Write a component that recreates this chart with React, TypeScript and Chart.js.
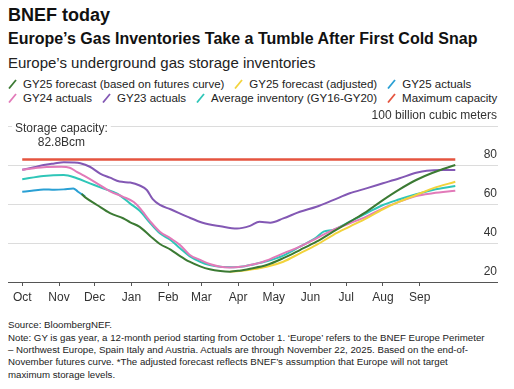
import React, { useEffect, useRef } from 'react';
import { Chart, registerables } from 'chart.js';

Chart.register(...registerables);

const FONT = '"Liberation Sans", Arial, Helvetica, sans-serif';

// x axis: days since October 1 of the gas year
const monthDays = [0, 31, 61, 92, 123, 151, 182, 212, 243, 273, 304, 335];
const monthLabels = ['Oct', 'Nov', 'Dec', 'Jan', 'Feb', 'Mar', 'Apr', 'May', 'Jun', 'Jul', 'Aug', 'Sep'];
const yTicks = [20, 40, 60, 80, 100];
const yUnit = 'billion cubic meters';

// GY25 forecast (based on futures curve)
const gy25ForecastDays = [50, 54, 63, 74, 85, 91, 99, 108, 116, 125, 133, 141, 150, 158, 167, 175, 183, 192, 206, 220, 234, 248, 262, 276, 290, 304, 318, 332, 346, 365];
const gy25ForecastValues = [65.1, 63, 59.5, 55.3, 52.7, 50.6, 48.3, 43.5, 39.5, 36.6, 33.3, 30.4, 28, 26.5, 25.6, 25.3, 25.8, 26.8, 28.7, 32.2, 36.4, 40.7, 45.8, 50.9, 56, 62, 67.5, 72.3, 76, 80];

// GY25 forecast (adjusted)
const gy25AdjustedDays = [175, 183, 192, 206, 220, 234, 248, 262, 276, 290, 304, 318, 332, 346, 365];
const gy25AdjustedValues = [25.3, 25.6, 26.3, 27.8, 30.4, 34.7, 39, 44.1, 48.4, 52.6, 57.3, 61.2, 64.6, 68, 71.4];

// GY25 actuals
const gy25ActualDays = [0, 8, 18, 27, 35, 43, 47, 50, 53];
const gy25ActualValues = [66.3, 66.8, 67.5, 67.3, 67.5, 68, 66.3, 65.1, 64];

// GY24 actuals
const gy24Days = [0, 10, 18, 33, 40, 46, 52, 63, 74, 85, 94, 99, 108, 116, 125, 133, 141, 150, 158, 167, 175, 184, 192, 200, 206, 220, 234, 248, 262, 276, 290, 304, 318, 332, 346, 365];
const gy24Values = [77.6, 78.3, 78.9, 79.1, 78.6, 76.5, 74.5, 70.6, 66.5, 63.7, 61, 58, 51, 45.8, 42.4, 39, 34, 31.3, 29.2, 27.8, 27.5, 27.8, 28.7, 29.8, 31, 34.7, 38.1, 42.4, 46.7, 50.1, 53.5, 57.8, 61.2, 64.1, 65.5, 66.8];

// GY23 actuals
const gy23Days = [0, 10, 18, 27, 35, 43, 49, 57, 66, 74, 82, 91, 99, 105, 110, 116, 125, 139, 152, 167, 181, 192, 200, 209, 220, 234, 248, 262, 276, 290, 304, 318, 332, 341, 355, 365];
const gy23Values = [77.6, 78.8, 80, 80.8, 81.4, 81.3, 80.9, 79.1, 75.5, 73.5, 71.5, 71, 69.5, 67.2, 62.5, 59.5, 57.3, 53.5, 50.4, 48.6, 47.4, 48.8, 50.9, 50.4, 52.6, 56, 58.6, 62, 65.5, 68, 70.6, 73.2, 76, 77.1, 77.4, 77.4];

// Average inventory (GY16-GY20)
const avgDays = [0, 18, 35, 46, 57, 68, 80, 91, 99, 108, 116, 125, 133, 141, 150, 158, 167, 178, 186, 192, 206, 220, 234, 248, 254, 262, 276, 290, 304, 318, 332, 346, 365];
const avgValues = [72.7, 74.4, 74.9, 73.2, 70.6, 68, 65.3, 60.2, 56.5, 50.1, 45, 41.5, 37.3, 33.3, 30.4, 28.7, 27.8, 27.6, 27.9, 28.7, 30.6, 33.5, 38.1, 42.9, 45.8, 46.7, 50.9, 55.2, 59.5, 62.4, 65, 67.2, 69.2];

// Maximum capacity
const capacityDays = [0, 365];
const capacityValues = [82.8, 82.8];
const capacityNote = ['Storage capacity:', '82.8Bcm'];

const seriesNames = [
  'GY25 forecast (based on futures curve)',
  'GY25 forecast (adjusted)',
  'GY25 actuals',
  'GY24 actuals',
  'GY23 actuals',
  'Average inventory (GY16-GY20)',
  'Maximum capacity',
];
const seriesColors = ['#3b7a33', '#f2d33c', '#2aa0d4', '#e27ab9', '#8358b4', '#2fc6b8', '#e5543f'];

const toPoints = (days: number[], vals: number[]) => days.map((d, i) => ({ x: d, y: vals[i] }));

const overlay = {
  id: 'overlay',
  afterDraw(chart: any) {
    const { ctx, chartArea, scales } = chart;
    const x = scales.x;
    const y = scales.y;
    ctx.save();
    ctx.font = `12px ${FONT}`;
    ctx.fillStyle = '#333';
    ctx.textAlign = 'right';
    ctx.textBaseline = 'alphabetic';
    yTicks.forEach((v) => {
      const label = v === 100 ? `${v} ${yUnit}` : String(v);
      ctx.fillText(label, chartArea.right - 1, y.getPixelForValue(v) - 7);
    });
    // capacity annotation
    ctx.textAlign = 'center';
    const ax = x.getPixelForValue(33);
    const ay = y.getPixelForValue(100);
    const w = Math.max(...capacityNote.map((l) => ctx.measureText(l).width));
    ctx.fillStyle = '#fff';
    ctx.fillRect(ax - w / 2 - 3, ay - 3, w + 6, 6);
    ctx.fillStyle = '#333';
    ctx.fillText(capacityNote[0], ax, ay + 6);
    ctx.fillText(capacityNote[1], ax, ay + 20);
    ctx.restore();
  },
};

function Marker({ color }: { color: string }) {
  return (
    <svg width="9" height="10" style={{ display: 'block', marginRight: 6, flex: 'none' }}>
      <line x1="1" y1="9.5" x2="8" y2="1" stroke={color} strokeWidth="1.8" />
    </svg>
  );
}

function LegendRow({ idx, top }: { idx: number[]; top: number }) {
  return (
    <div
      style={{
        position: 'absolute',
        left: 8,
        top,
        display: 'flex',
        alignItems: 'center',
        fontSize: 11.5,
        lineHeight: '12px',
        whiteSpace: 'nowrap',
        color: '#222',
      }}
    >
      {idx.map((i) => (
        <div key={i} style={{ display: 'flex', alignItems: 'center', marginRight: 10 }}>
          <Marker color={seriesColors[i]} />
          <span>{seriesNames[i]}</span>
        </div>
      ))}
    </div>
  );
}

export default function App() {
  const canvasRef = useRef<HTMLCanvasElement>(null);

  useEffect(() => {
    const canvas = canvasRef.current;
    if (!canvas) return;
    const series = [
      toPoints(gy25ForecastDays, gy25ForecastValues),
      toPoints(gy25AdjustedDays, gy25AdjustedValues),
      toPoints(gy25ActualDays, gy25ActualValues),
      toPoints(gy24Days, gy24Values),
      toPoints(gy23Days, gy23Values),
      toPoints(avgDays, avgValues),
      toPoints(capacityDays, capacityValues),
    ];
    const chart = new Chart(canvas, {
      type: 'line',
      data: {
        datasets: series.map((data, i) => ({
          label: seriesNames[i],
          data,
          borderColor: seriesColors[i],
          backgroundColor: seriesColors[i],
          borderWidth: i === 6 ? 2.5 : 2,
          pointRadius: 0,
          cubicInterpolationMode: 'monotone' as const,
          fill: false,
        })),
      },
      options: {
        animation: false,
        responsive: false,
        maintainAspectRatio: false,
        parsing: true,
        layout: { padding: { top: 21, left: 0, right: 0, bottom: 0 } },
        plugins: { legend: { display: false }, tooltip: { enabled: false }, title: { display: false } },
        scales: {
          x: {
            type: 'linear',
            min: -12,
            max: 401,
            afterBuildTicks: (s: any) => {
              s.ticks = monthDays.map((v) => ({ value: v }));
            },
            afterFit: (s: any) => {
              s.height = 23;
            },
            ticks: {
              autoSkip: false,
              maxRotation: 0,
              padding: 4,
              color: '#333',
              font: { family: FONT, size: 12 },
              callback: (v: any) => {
                const k = monthDays.indexOf(Number(v));
                return k >= 0 ? monthLabels[k] : '';
              },
            },
            grid: { drawOnChartArea: false, drawTicks: true, tickLength: 4, color: '#555' },
            border: { display: true, color: '#555', width: 1 },
          },
          y: {
            type: 'linear',
            position: 'right',
            min: 20,
            max: 100,
            afterBuildTicks: (s: any) => {
              s.ticks = yTicks.map((v) => ({ value: v }));
            },
            afterFit: (s: any) => {
              s.width = 0;
            },
            ticks: { display: false },
            grid: { color: '#dcdcdc', drawTicks: false, lineWidth: 1 },
            border: { display: false },
          },
        },
      },
      plugins: [overlay],
    });
    return () => chart.destroy();
  }, []);

  return (
    <div
      style={{
        position: 'fixed',
        left: 0,
        top: 0,
        width: 514,
        height: 389,
        background: '#fff',
        fontFamily: FONT,
        color: '#111',
        overflow: 'hidden',
      }}
    >
      <div style={{ position: 'absolute', left: 8, top: 6, fontSize: 18, lineHeight: '18px', fontWeight: 700, whiteSpace: 'nowrap' }}>
        BNEF today
      </div>
      <div style={{ position: 'absolute', left: 8, top: 31.2, fontSize: 16, lineHeight: '16px', fontWeight: 700, whiteSpace: 'nowrap' }}>
        Europe’s Gas Inventories Take a Tumble After First Cold Snap
      </div>
      <div style={{ position: 'absolute', left: 8, top: 55, fontSize: 15, lineHeight: '15px', whiteSpace: 'nowrap', color: '#222' }}>
        Europe’s underground gas storage inventories
      </div>
      <LegendRow idx={[0, 1, 2]} top={77.5} />
      <LegendRow idx={[3, 4, 5, 6]} top={92} />
      <canvas
        ref={canvasRef}
        width={490}
        height={200}
        style={{ position: 'absolute', left: 8, top: 105, width: 490, height: 200, display: 'block' }}
      />
      <div
        style={{
          position: 'absolute',
          left: 8,
          top: 319.4,
          fontSize: 9.7,
          lineHeight: '12.3px',
          whiteSpace: 'nowrap',
          color: '#222',
        }}
      >
        <div>Source: BloombergNEF.</div>
        <div>Note: GY is gas year, a 12-month period starting from October 1. ‘Europe’ refers to the BNEF Europe Perimeter</div>
        <div>– Northwest Europe, Spain Italy and Austria. Actuals are through November 22, 2025. Based on the end-of-</div>
        <div>November futures curve. *The adjusted forecast reflects BNEF’s assumption that Europe will not target</div>
        <div>maximum storage levels.</div>
      </div>
    </div>
  );
}
